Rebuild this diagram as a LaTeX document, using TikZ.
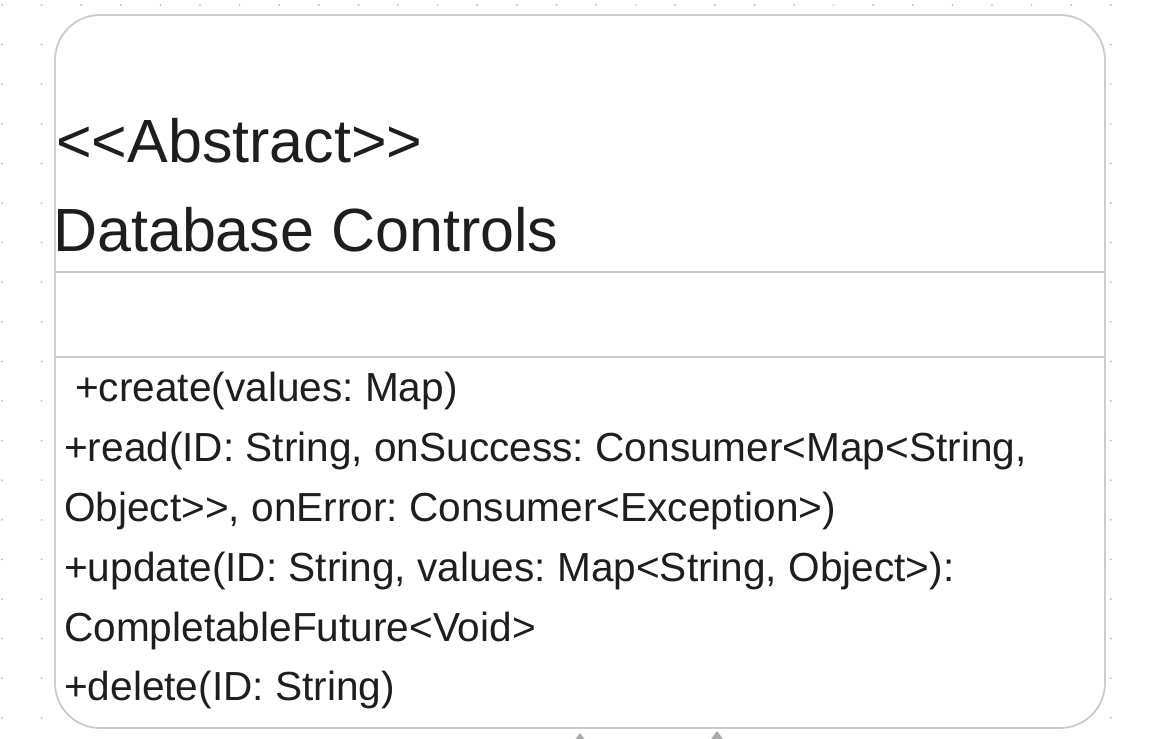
\documentclass[tikz,border=0pt]{standalone}
\usepackage{fontspec}
\setmainfont{Liberation Sans}[Ligatures=TeXOff]
\frenchspacing
\usetikzlibrary{arrows.meta}
\definecolor{bordergray}{HTML}{CCCCCC}
\definecolor{dotgray}{HTML}{C4C4C4}
\definecolor{arrowgray}{HTML}{ABABAB}
\definecolor{textdark}{HTML}{1E1E1E}
\tikzset{
  classbox/.style={draw=bordergray, line width=1.8pt, fill=white, rounded corners=45pt,
    minimum width=1050pt, minimum height=713pt, inner sep=0pt},
  divider/.style={draw=bordergray, line width=1.8pt},
  titletext/.style={anchor=base west, inner sep=0pt, text=textdark,
    font=\fontsize{61}{72}\selectfont},
  membertext/.style={anchor=base west, inner sep=0pt, text=textdark,
    font=\fontsize{40.6}{60}\selectfont},
  griddot/.style={fill=dotgray},
  inherit/.style={draw=arrowgray, line width=1.5pt, -{Triangle[length=11pt,width=16pt]}},
}
\begin{document}
\begin{tikzpicture}[x=1pt,y=-1pt]
\useasboundingbox (0,0) rectangle (1149,739);
\clip (0,0) rectangle (1149,739);
% dot grid
\foreach \i in {0,...,29}{
  \foreach \j in {0,...,18}{
    \fill[griddot] ({2+39.6*\i},{5+39.6*\j}) circle (1.1pt);
  }
}
% class box
\node[classbox] (cls) at (580,371.5) {};
\draw[divider] (55,272) -- (1105,272);
\draw[divider] (55,357) -- (1105,357);
% texts
\node[titletext] (t1) at (56,162) {<<Abstract>>};
\node[titletext] (t2) at (53,251) {Database Controls};
\node[membertext] (m1) at (75,401) {+create(values: Map)};
\node[membertext] (m2) at (64,461) {+read(ID: String, onSuccess: Consumer<Map<String,};
\node[membertext] (m3) at (64,521) {Object>>, onError: Consumer<Exception>)};
\node[membertext] (m4) at (64,581) {+update(ID: String, values: Map<String, Object>):};
\node[membertext] (m5) at (64,641) {CompletableFuture<Void>};
\node[membertext] (m6) at (64,700) {+delete(ID: String)};
% cut-off inheritance arrows from below
\coordinate (a1s) at (580,790);
\coordinate (a1e) at (580,733);
\coordinate (a2s) at (717,790);
\coordinate (a2e) at (717,731);
\draw[inherit] (a1s) -- (a1e);
\draw[inherit] (a2s) -- (a2e);
\end{tikzpicture}
\end{document}
